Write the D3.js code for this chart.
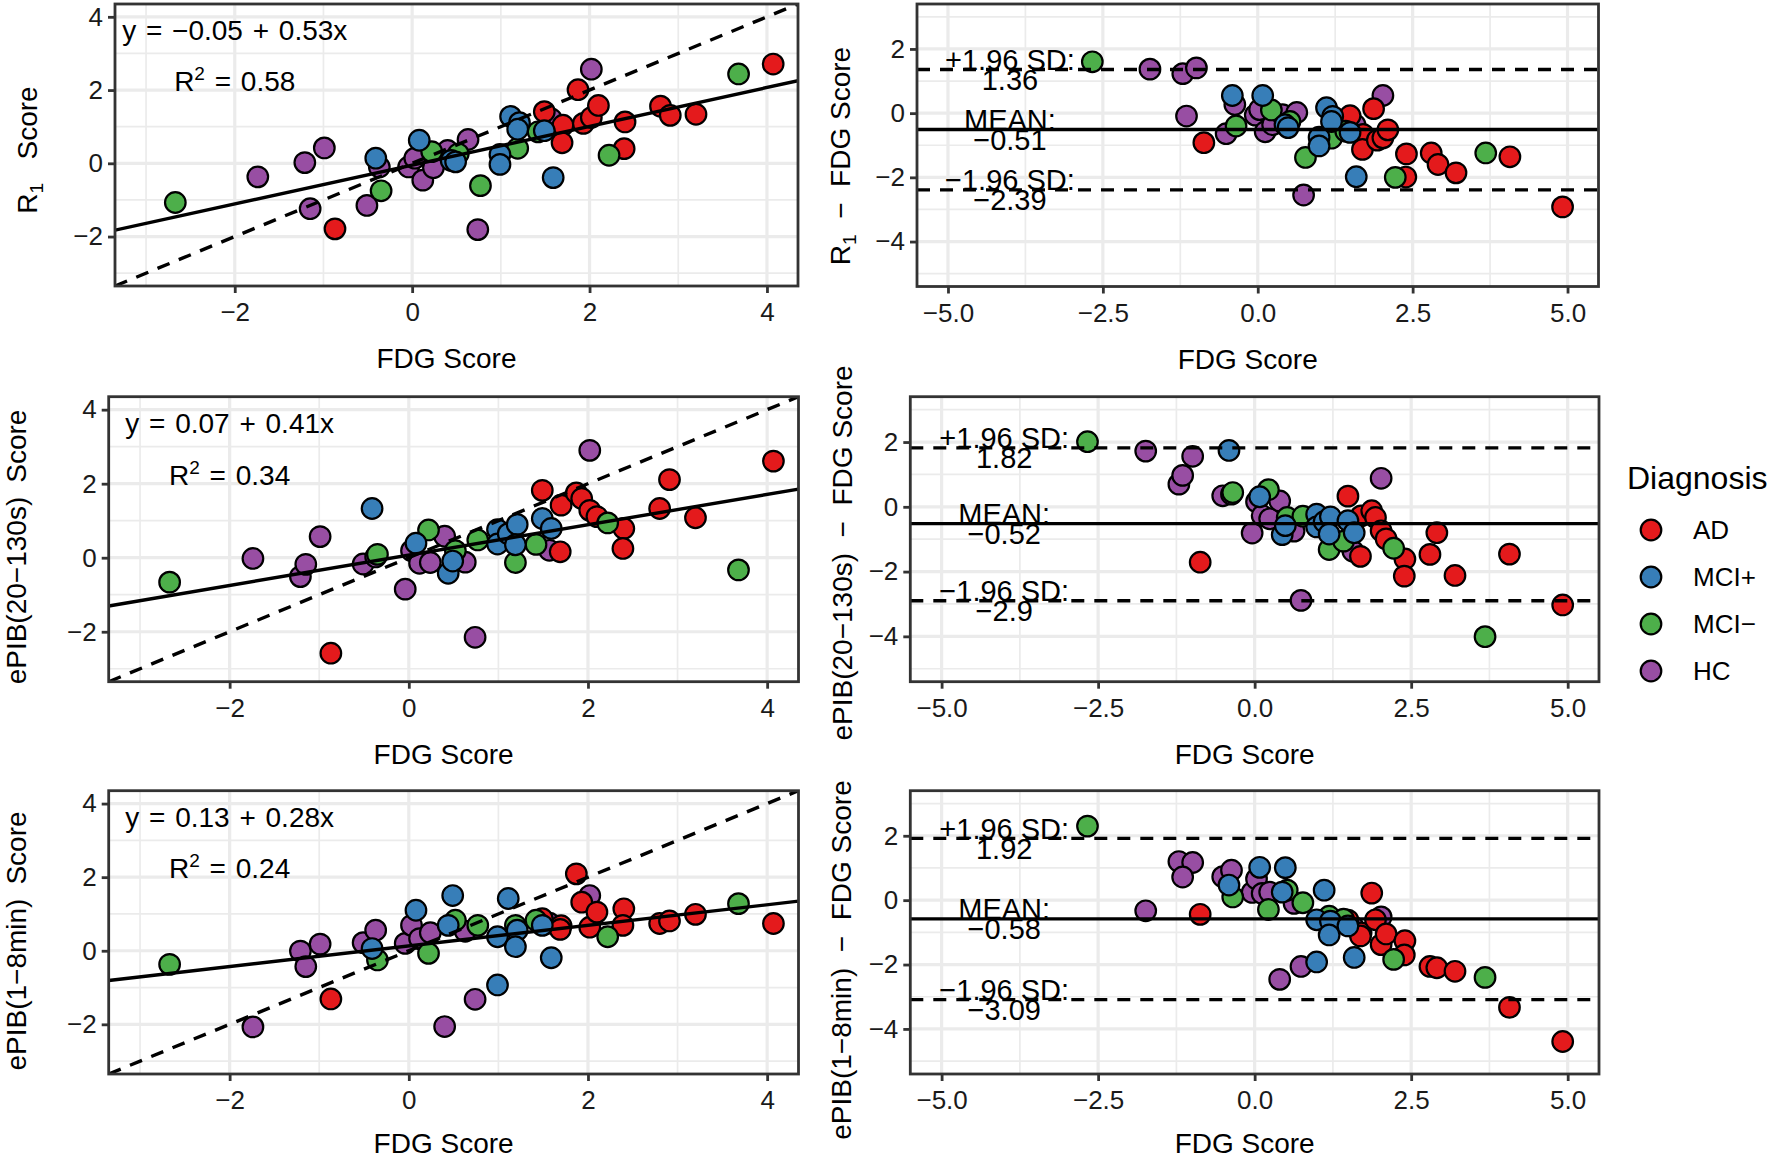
<!DOCTYPE html>
<html><head><meta charset="utf-8">
<script src="https://cdn.jsdelivr.net/npm/d3@7"></script>
<style>
body{margin:0;background:#fff}
svg{display:block}
text{font-family:"Liberation Sans",Arial,Helvetica,sans-serif}
</style>
</head><body>
<svg id="chart" width="1776" height="1160"></svg>
<script>
// ---------------- data ----------------
const diagnosisLevels = ["AD", "MCI+", "MCI\u2212", "HC"];
const diagnosisColors = ["#E41A1C", "#377EB8", "#4DAF4A", "#984EA3"];

const subjectDiagnosis = [
  "AD","AD","AD","AD","AD","AD","AD","AD","AD","AD","AD","AD","AD","AD","AD",
  "MCI+","MCI+","MCI+","MCI+","MCI+","MCI+","MCI+","MCI+","MCI+","MCI+","MCI+",
  "MCI\u2212","MCI\u2212","MCI\u2212","MCI\u2212","MCI\u2212","MCI\u2212","MCI\u2212","MCI\u2212","MCI\u2212",
  "HC","HC","HC","HC","HC","HC","HC","HC","HC","HC","HC","HC","HC","HC","HC"
];
const fdgScore = [
  -0.87, 1.49, 1.70, 1.69, 1.87, 1.93, 2.02, 2.10, 2.40, 2.39, 2.80, 2.91, 3.20, 4.07, 4.92,
  -0.41, 0.08, 0.44, 0.49, 0.99, 0.99, 1.11, 1.21, 1.19, 1.49, 1.59,
  -2.67, -0.35, 0.22, 0.52, 0.77, 1.19, 1.42, 2.22, 3.68,
  -1.74, -1.21, -0.99, -1.15, -0.51, -0.37, -0.04, 0.03, 0.12, 0.24, 0.40, 0.63, 0.74, 2.02, 1.57
];
const r1Score = [
  -1.79, 1.41, 1.04, 0.56, 2.01, 1.09, 1.25, 1.58, 1.13, 0.40, 1.56, 1.31, 1.34, 2.71, 2.00,
  0.14, 0.63, 0.08, 0.04, 0.24, -0.03, 1.28, 1.11, 0.93, 0.89, -0.39,
  -1.07, -0.75, 0.32, 0.26, -0.61, 0.41, 0.86, 0.22, 2.44,
  -0.37, 0.02, 0.42, -1.24, -1.15, -0.10, -0.10, 0.14, -0.46, -0.12, 0.35, 0.65, -1.81, 2.57, 1.21
];
const epib20to130sScore = [
  -2.58, 1.82, 1.42, 0.16, 1.75, 1.60, 1.28, 1.11, 0.79, 0.25, 1.33, 2.11, 1.08, 2.61, 1.89,
  1.33, 0.39, -0.42, -0.09, 0.76, 0.37, 0.65, 0.90, 0.35, 1.06, 0.79,
  -0.66, 0.09, 0.75, 0.19, 0.48, -0.13, 0.36, 0.94, -0.33,
  -0.02, -0.51, 0.57, -0.18, -0.17, 0.02, -0.85, 0.19, -0.15, -0.13, 0.58, -0.12, -2.15, 2.90, 0.20
];
const epib1to8minScore = [
  -1.31, 0.87, 0.68, 0.58, 2.09, 1.32, 0.64, 1.05, 1.14, 0.69, 0.74, 0.81, 0.99, 0.74, 0.53,
  0.06, 1.10, 0.69, 1.50, 0.38, -0.93, 1.42, 0.56, 0.11, 0.69, -0.19,
  -0.37, -0.25, -0.07, 0.83, 0.69, 0.69, 0.83, 0.38, 1.28,
  -2.07, -0.01, 0.18, -0.43, 0.22, 0.56, 0.20, 0.69, 0.33, 0.49, -2.06, 0.53, -1.32, 1.50, 0.75
];

const fitIntercepts = [-0.05, 0.07, 0.13];
const fitSlopes = [0.53, 0.41, 0.28];
const fitR2 = ["0.58", "0.34", "0.24"];
const fitInterceptText = ["\u22120.05", "0.07", "0.13"];
const fitSlopeText = ["0.53", "0.41", "0.28"];

const baUpper = [1.36, 1.82, 1.92];
const baMean = [-0.51, -0.52, -0.58];
const baLower = [-2.39, -2.9, -3.09];
const baUpperText = ["1.36", "1.82", "1.92"];
const baMeanText = ["\u22120.51", "\u22120.52", "\u22120.58"];
const baLowerText = ["\u22122.39", "\u22122.9", "\u22123.09"];

const leftTicks = [-2, 0, 2, 4];
const leftMinor = [-3, -1, 1, 3];
const rightXTicks = [-5, -2.5, 0, 2.5, 5];
const rightXMinor = [-3.75, -1.25, 1.25, 3.75];
const rightYTicks = [-4, -2, 0, 2];
const rightYMinor = [-5, -3, -1, 1, 3];

// ---------------- layout ----------------
const FONT = '"Liberation Sans",Arial,Helvetica,sans-serif';
const panelBoxes = [
  [{x0:115, x1:798, y0:4, y1:286}, {x0:917, x1:1598.5, y0:4, y1:286.5}],
  [{x0:108.7, x1:798.5, y0:396.7, y1:681.7}, {x0:910.3, x1:1599, y0:396.7, y1:681.7}],
  [{x0:108.7, x1:798.5, y0:790.7, y1:1074}, {x0:910.3, x1:1599, y0:790.7, y1:1074}]
];
const yTitleX = [[27, 840], [16, 842], [16, 841]];
const yTitleY = [[150, 156], [547, 553], [941, 960]];
const leftDomain = [-3.35, 4.35];
const rightXDomain = [-5.5, 5.5];
const rightYDomain = [-5.4, 3.4];
const drawOrder = ["HC", "AD", "MCI\u2212", "MCI+"];
const color = d3.scaleOrdinal().domain(diagnosisLevels).range(diagnosisColors);
const fmtMinus = v => String(v).replace("-", "\u2212");
const fmtRightX = v => d3.format(".1f")(v).replace("-", "\u2212");
const PT_R = 10.3, PT_SW = 2.2, LINE_W = 3.4;

const svg = d3.select("#chart");
svg.append("rect").attr("width", 1776).attr("height", 1160).attr("fill", "#fff");

const scoreSeries = [r1Score, epib20to130sScore, epib1to8minScore];
let clipId = 0;

function frame(box, xs, ys, xMajor, xMinor, yMajor, yMinor, fx, fy) {
  const g = svg.append("g");
  const id = "clip" + (clipId++);
  svg.append("defs").append("clipPath").attr("id", id)
    .append("rect").attr("x", box.x0).attr("y", box.y0)
    .attr("width", box.x1 - box.x0).attr("height", box.y1 - box.y0);
  g.append("rect").attr("x", box.x0).attr("y", box.y0)
    .attr("width", box.x1 - box.x0).attr("height", box.y1 - box.y0).attr("fill", "#fff");
  const grid = g.append("g").attr("clip-path", `url(#${id})`);
  grid.selectAll(".vmin").data(xMinor).join("line")
    .attr("x1", d => xs(d)).attr("x2", d => xs(d)).attr("y1", box.y0).attr("y2", box.y1)
    .attr("stroke", "#EBEBEB").attr("stroke-width", 1.7);
  grid.selectAll(".hmin").data(yMinor).join("line")
    .attr("y1", d => ys(d)).attr("y2", d => ys(d)).attr("x1", box.x0).attr("x2", box.x1)
    .attr("stroke", "#EBEBEB").attr("stroke-width", 1.7);
  grid.selectAll(".vmaj").data(xMajor).join("line")
    .attr("x1", d => xs(d)).attr("x2", d => xs(d)).attr("y1", box.y0).attr("y2", box.y1)
    .attr("stroke", "#EBEBEB").attr("stroke-width", 3.2);
  grid.selectAll(".hmaj").data(yMajor).join("line")
    .attr("y1", d => ys(d)).attr("y2", d => ys(d)).attr("x1", box.x0).attr("x2", box.x1)
    .attr("stroke", "#EBEBEB").attr("stroke-width", 3.2);
  const marks = g.append("g").attr("clip-path", `url(#${id})`);
  return {g, marks, finish: () => {
    g.append("rect").attr("x", box.x0).attr("y", box.y0)
      .attr("width", box.x1 - box.x0).attr("height", box.y1 - box.y0)
      .attr("fill", "none").attr("stroke", "#333").attr("stroke-width", 2.8);
    const ax = g.append("g").attr("transform", `translate(0,${box.y1})`)
      .call(d3.axisBottom(xs).tickValues(xMajor).tickFormat(fx).tickSizeInner(7).tickSizeOuter(0).tickPadding(10));
    const ay = g.append("g").attr("transform", `translate(${box.x0},0)`)
      .call(d3.axisLeft(ys).tickValues(yMajor).tickFormat(fy).tickSizeInner(7).tickSizeOuter(0).tickPadding(5));
    [ax, ay].forEach(a => {
      a.select(".domain").remove();
      a.attr("font-family", FONT).attr("font-size", 26);
      a.selectAll(".tick line").attr("stroke", "#333").attr("stroke-width", 2.8);
      a.selectAll(".tick text").attr("fill", "#1a1a1a");
    });
  }};
}

function drawPoints(layer, pts, xs, ys) {
  const sorted = pts.slice().sort((a, b) => drawOrder.indexOf(a.g) - drawOrder.indexOf(b.g));
  layer.selectAll("circle.pt").data(sorted).join("circle").attr("class", "pt")
    .attr("cx", d => xs(d.x)).attr("cy", d => ys(d.y)).attr("r", PT_R)
    .attr("fill", d => color(d.g)).attr("stroke", "#000").attr("stroke-width", PT_SW);
}

function yTitle(x, yc, parts) {
  const t = svg.append("text").attr("transform", `translate(${x},${yc}) rotate(-90)`)
    .attr("text-anchor", "middle").attr("dy", "0.35em").attr("font-size", 28).attr("fill", "#000");
  parts.forEach(p => {
    const ts = t.append("tspan").text(p.t);
    if (p.sub) ts.attr("font-size", 19).attr("dy", 6);
    if (p.after) ts.attr("dy", -6);
  });
}
function xTitle(box) {
  svg.append("text").attr("x", (box.x0 + box.x1) / 2 - 10).attr("y", Math.min(box.y1 + 82, 1153))
    .attr("text-anchor", "middle").attr("font-size", 28).attr("fill", "#000").text("FDG Score");
}

const leftTitles = [
  [{t:"R"}, {t:"1", sub:true}, {t:"\u00A0\u00A0\u00A0Score", after:true}],
  [{t:"ePIB(20\u2212130s)\u2002Score"}],
  [{t:"ePIB(1\u22128min)\u2002Score"}]
];
const rightTitles = [
  [{t:"R"}, {t:"1", sub:true}, {t:"\u00A0\u00A0\u2212\u00A0\u00A0FDG Score", after:true}],
  [{t:"ePIB(20\u2212130s)\u00A0\u00A0\u2212\u00A0\u00A0FDG Score"}],
  [{t:"ePIB(1\u22128min)\u00A0\u00A0\u2212\u00A0\u00A0FDG Score"}]
];

for (let r = 0; r < 3; r++) {
  const scores = scoreSeries[r];
  // ---- left: score vs FDG ----
  const bl = panelBoxes[r][0];
  const xl = d3.scaleLinear().domain(leftDomain).range([bl.x0, bl.x1]);
  const yl = d3.scaleLinear().domain(leftDomain).range([bl.y1, bl.y0]);
  const L = frame(bl, xl, yl, leftTicks, leftMinor, leftTicks, leftMinor, fmtMinus, fmtMinus);
  const ptsL = fdgScore.map((x, i) => ({x, y: scores[i], g: subjectDiagnosis[i]}))
    .filter(d => d.x >= leftDomain[0] && d.x <= leftDomain[1] && d.y >= leftDomain[0] && d.y <= leftDomain[1]);
  drawPoints(L.marks, ptsL, xl, yl);
  // regression line
  L.marks.append("line")
    .attr("x1", xl(leftDomain[0])).attr("y1", yl(fitIntercepts[r] + fitSlopes[r] * leftDomain[0]))
    .attr("x2", xl(leftDomain[1])).attr("y2", yl(fitIntercepts[r] + fitSlopes[r] * leftDomain[1]))
    .attr("stroke", "#000").attr("stroke-width", LINE_W);
  // identity line
  L.marks.append("line")
    .attr("x1", xl(leftDomain[0])).attr("y1", yl(leftDomain[0]))
    .attr("x2", xl(leftDomain[1])).attr("y2", yl(leftDomain[1]))
    .attr("stroke", "#000").attr("stroke-width", LINE_W).attr("stroke-dasharray", "13,10");
  // equation text
  L.g.append("text").attr("x", xl(-2)).attr("y", yl(3.65)).attr("dy", "0.36em")
    .attr("text-anchor", "middle").attr("font-size", 28).attr("fill", "#000")
    .attr("word-spacing", 2)
    .text(`y = ${fitInterceptText[r]} + ${fitSlopeText[r]}x`);
  const r2 = L.g.append("text").attr("x", xl(-2)).attr("y", yl(2.25)).attr("dy", "0.36em")
    .attr("text-anchor", "middle").attr("font-size", 28).attr("fill", "#000").attr("word-spacing", 2);
  r2.append("tspan").text("R");
  r2.append("tspan").text("2").attr("font-size", 19).attr("dy", -11);
  r2.append("tspan").text(" = " + fitR2[r]).attr("dy", 11);
  L.finish();
  yTitle(yTitleX[r][0], yTitleY[r][0], leftTitles[r]);
  xTitle(bl);

  // ---- right: difference vs FDG ----
  const br = panelBoxes[r][1];
  const xr = d3.scaleLinear().domain(rightXDomain).range([br.x0, br.x1]);
  const yr = d3.scaleLinear().domain(rightYDomain).range([br.y1, br.y0]);
  const R = frame(br, xr, yr, rightXTicks, rightXMinor, rightYTicks, rightYMinor, fmtRightX, fmtMinus);
  const ptsR = fdgScore.map((x, i) => ({x, y: scores[i] - x, g: subjectDiagnosis[i]}));
  drawPoints(R.marks, ptsR, xr, yr);
  const hl = [
    {v: baUpper[r], dash: true, l1: "+1.96 SD:", l2: baUpperText[r]},
    {v: baMean[r], dash: false, l1: "MEAN:", l2: baMeanText[r]},
    {v: baLower[r], dash: true, l1: "\u22121.96 SD:", l2: baLowerText[r]}
  ];
  hl.forEach(h => {
    R.marks.append("line").attr("x1", br.x0).attr("x2", br.x1)
      .attr("y1", yr(h.v)).attr("y2", yr(h.v))
      .attr("stroke", "#000").attr("stroke-width", LINE_W)
      .attr("stroke-dasharray", h.dash ? "13,10" : null);
  });
  hl.forEach(h => {
    const yy = yr(h.v);
    const t = R.g.append("text").attr("text-anchor", "middle").attr("font-size", 29).attr("fill", "#000");
    t.append("tspan").attr("x", xr(-4)).attr("y", yy - 10).attr("dy", "0.36em").text(h.l1);
    t.append("tspan").attr("x", xr(-4)).attr("y", yy + 10).attr("dy", "0.36em").text(h.l2);
  });
  R.finish();
  yTitle(yTitleX[r][1], yTitleY[r][1], rightTitles[r]);
  xTitle(br);
}

// ---------------- legend ----------------
const lg = svg.append("g");
lg.append("text").attr("x", 1627).attr("y", 489).attr("font-size", 32).attr("fill", "#000").text("Diagnosis");
const keys = lg.selectAll("g.key").data(diagnosisLevels).join("g").attr("class", "key")
  .attr("transform", (d, i) => `translate(1651,${530 + i * 47})`);
keys.append("circle").attr("r", PT_R).attr("fill", d => color(d)).attr("stroke", "#000").attr("stroke-width", PT_SW);
keys.append("text").attr("x", 42).attr("dy", "0.36em").attr("font-size", 26).attr("fill", "#000").text(d => d);
</script>
</body></html>
